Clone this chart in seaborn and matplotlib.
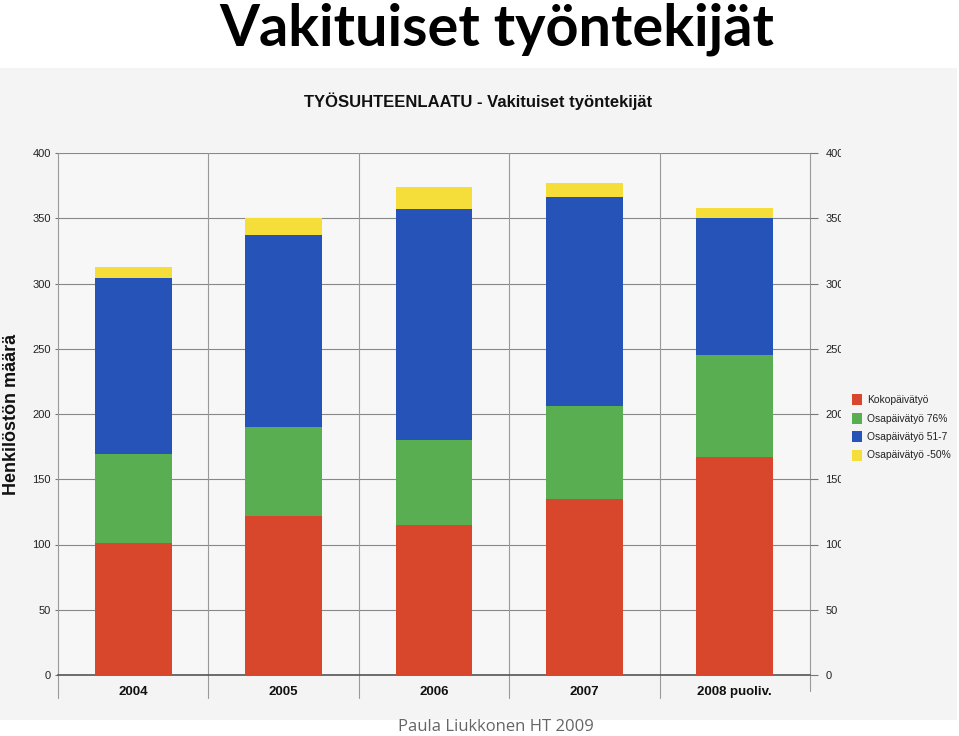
import numpy as np
import pandas as pd
import matplotlib
matplotlib.use("Agg")
import matplotlib.pyplot as plt
import seaborn as sns
from matplotlib.patches import Rectangle
from matplotlib.transforms import Bbox, TransformedBbox

# data
years = ["2004", "2005", "2006", "2007", "2008 puoliv."]
koko = [101, 122, 115, 135, 167]        # Kokopäivätyö
osa76 = [68, 68, 65, 71, 78]            # Osapäivätyö 76%
osa51 = [135, 147, 177, 160, 105]       # Osapäivätyö 51-75%
osa50 = [9, 13, 17, 11, 8]              # Osapäivätyö -50%
series_names = ["Kokopäivätyö", "Osapäivätyö 76%", "Osapäivätyö 51-7", "Osapäivätyö -50%"]
colors = ["#d8462c", "#5aae52", "#2553b8", "#f5dd3a"]
yticks = [0, 50, 100, 150, 200, 250, 300, 350, 400]

df = pd.DataFrame({"year": years, "koko": koko, "osa76": osa76,
                   "osa51": osa51, "osa50": osa50})
df["c1"] = df["koko"]
df["c2"] = df["c1"] + df["osa76"]
df["c3"] = df["c2"] + df["osa51"]
df["c4"] = df["c3"] + df["osa50"]

sns.set_style("white")
plt.rcParams['font.family'] = ['Liberation Sans', 'DejaVu Sans']

fig = plt.figure(figsize=(9.59, 7.36), dpi=100)
fig.patch.set_facecolor("white")

# scanned paper area
fig.add_artist(Rectangle((0, 1 - 720 / 736), 957 / 959, 652 / 736,
                         transform=fig.transFigure, facecolor="#f4f4f5",
                         edgecolor="none", zorder=0))

ax = fig.add_axes([58 / 959, 1 - 675 / 736, 752 / 959, 522 / 736])
ax.set_facecolor("#f7f7f8")

# stacked bars: draw cumulative totals from the top down
for col, c in zip(["c4", "c3", "c2", "c1"], colors[::-1]):
    sns.barplot(data=df, x="year", y=col, color=c, width=0.51,
                saturation=1, order=years, ax=ax, zorder=3, linewidth=0)

ax.set_xlim(-0.5, len(years) - 0.5)
ax.set_ylim(0, 400)
ax.set_yticks(yticks)
ax.set_yticklabels([str(v) for v in yticks], fontsize=8, color="#222222")
ax.set_xlabel("")
ax.set_ylabel("Henkilöstön määrä", fontsize=13, fontweight="bold", color="#111111")
ax.yaxis.set_label_coords(-0.05, 0.5)
ax.tick_params(axis="y", direction="out", length=2, width=0.8, color="#777777", pad=3)
ax.tick_params(axis="x", length=0, pad=8)
for lbl in ax.get_xticklabels():
    lbl.set_fontweight("bold")
    lbl.set_fontsize(9.5)
    lbl.set_color("#111111")

ax.grid(axis="y", color="#888888", linewidth=0.8, zorder=1)
for b in np.arange(0.5, len(years) - 0.5, 1.0):
    ax.axvline(b, ymin=-0.045, ymax=1, color="#999999", linewidth=0.8,
               clip_on=False, zorder=1)
ax.spines["top"].set_visible(False)
ax.spines["left"].set_color("#999999")
ax.spines["left"].set_linewidth(0.8)
ax.spines["right"].set_color("#999999")
ax.spines["right"].set_linewidth(0.8)
ax.spines["bottom"].set_color("#555555")
ax.spines["bottom"].set_linewidth(1.2)
ax.axvline(-0.5, ymin=-0.045, ymax=0, color="#999999", linewidth=0.8, clip_on=False)
ax.axvline(len(years) - 0.5, ymin=-0.03, ymax=0, color="#999999", linewidth=0.8, clip_on=False)

# right axis, labels cut off by the scan
ax2 = ax.twinx()
ax2.set_ylim(0, 400)
ax2.set_yticks(yticks)
ax2.set_yticklabels([str(v) for v in yticks], fontsize=8, color="#222222")
ax2.tick_params(axis="y", direction="out", length=6, width=0.8, color="#777777", pad=5)
for s in ax2.spines.values():
    s.set_visible(False)
clip = TransformedBbox(Bbox([[0, 0], [841 / 959, 1]]), fig.transFigure)
for lbl in ax2.get_yticklabels():
    lbl.set_clip_box(clip)
    lbl.set_clip_on(True)

# legend
for i, (name, c) in enumerate(zip(series_names, colors)):
    y = 1 - (400 + i * 18.5) / 736
    fig.add_artist(Rectangle((852 / 959, y - 5 / 736), 10 / 959, 11 / 736,
                             transform=fig.transFigure, facecolor=c,
                             edgecolor="none"))
    fig.text(867 / 959, y, name, fontsize=7.4, va="center", ha="left", color="#222222")

# titles
fig.text(478 / 959, 1 - 101 / 736, "TYÖSUHTEENLAATU - Vakituiset työntekijät",
         fontsize=12, fontweight="bold", ha="center", va="center", color="#111111")
fig.text(497 / 959, 1 - 46 / 736, "Vakituiset työntekijät",
         family=["Lato", "DejaVu Sans"], fontsize=41.5, fontweight="bold",
         ha="center", va="baseline", color="black", zorder=5)
fig.text(496 / 959, 1 - 727 / 736, "Paula Liukkonen HT 2009",
         family=["Open Sans", "DejaVu Sans"], fontsize=12, ha="center",
         va="center", color="#666666")

fig.savefig("out.png", dpi=100)
